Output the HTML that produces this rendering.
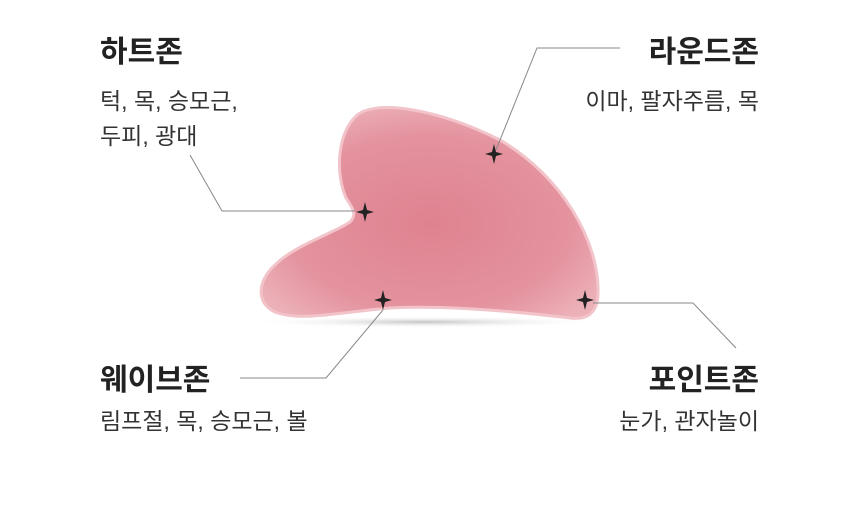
<!DOCTYPE html>
<html><head><meta charset="utf-8"><style>
body{margin:0;width:860px;height:509px;background:#fff;overflow:hidden;font-family:"Liberation Sans","Noto Sans CJK KR",sans-serif;position:relative;color:#222}
.t{position:absolute;font-size:30px;font-weight:bold;color:#222;white-space:nowrap;line-height:34px}
.s{position:absolute;font-size:23px;color:#333;white-space:nowrap;line-height:28px}
.r{text-align:right}
</style></head><body>
<svg width="860" height="509" style="position:absolute;left:0;top:0">
<defs>
<radialGradient id="g" cx="0.5" cy="0.55" r="0.6">
<stop offset="0" stop-color="#df8290"/><stop offset="0.7" stop-color="#e4939f"/><stop offset="1" stop-color="#ecb0b8"/>
</radialGradient>
<radialGradient id="sh" cx="0.5" cy="0.5" r="0.5"><stop offset="0" stop-color="#c4c4c4"/><stop offset="1" stop-color="#fff" stop-opacity="0"/></radialGradient>
</defs>
<ellipse cx="425" cy="322" rx="180" ry="6" fill="url(#sh)"/>
<path d="M356,116 C376,98 440,110 500,140 C560,175 600,240 598,295 C597,315 585,320 570,318 C520,312 450,305 390,308 C340,312 300,322 275,312 C255,303 258,280 275,265 C295,245 330,235 350,222 C358,214 352,207 346,198 C336,175 336,136 356,116 Z" fill="url(#g)" stroke="#f2c4ca" stroke-width="3"/>
<g stroke="#888" stroke-width="1" fill="none">
<polyline points="190,155 222,211 355,211"/>
<polyline points="620,48 537,48 496,150"/>
<polyline points="240,378 326,378 383,310"/>
<polyline points="593,303 693,303 736,348"/>
</g>
<g fill="#222">
<path d="M365,202 L367,210 L374,212 L367,214 L365,222 L363,214 L356,212 L363,210Z"/>
<path d="M494,144 L496,152 L503,154 L496,156 L494,164 L492,156 L485,154 L492,152Z"/>
<path d="M383,290 L385,298 L392,300 L385,302 L383,310 L381,302 L374,300 L381,298Z"/>
<path d="M585,290 L587,298 L594,300 L587,302 L585,310 L583,302 L576,300 L583,298Z"/>
</g>
</svg>
<div class="t" style="left:100px;top:36px">하트존</div>
<div class="s" style="left:100px;top:87px">턱, 목, 승모근,</div>
<div class="s" style="left:100px;top:122px">두피, 광대</div>
<div class="t r" style="right:101px;top:36px">라운드존</div>
<div class="s r" style="right:101px;top:87px">이마, 팔자주름, 목</div>
<div class="t" style="left:100px;top:364px">웨이브존</div>
<div class="s" style="left:100px;top:407px">림프절, 목, 승모근, 볼</div>
<div class="t r" style="right:101px;top:364px">포인트존</div>
<div class="s r" style="right:101px;top:407px">눈가, 관자놀이</div>
</body></html>
